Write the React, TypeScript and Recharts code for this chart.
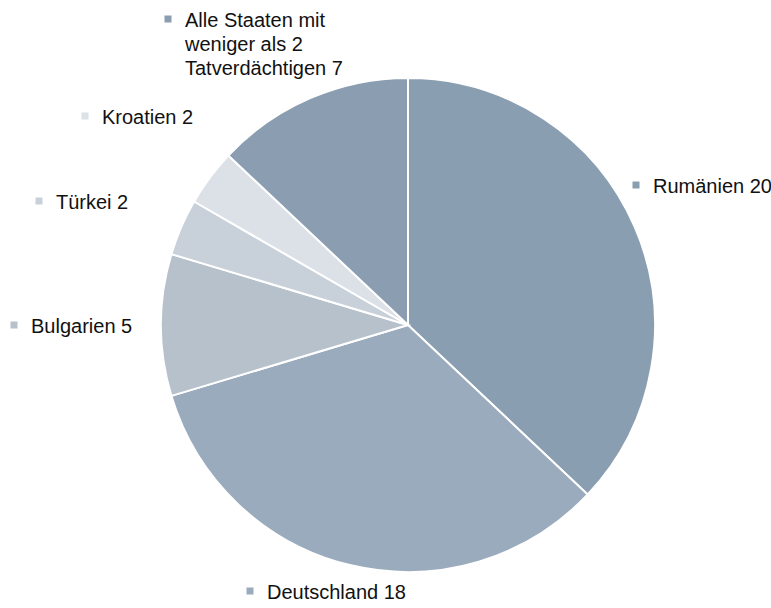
import { PieChart, Pie, Cell } from 'recharts';

const countries = [
  'Rumänien',
  'Deutschland',
  'Bulgarien',
  'Türkei',
  'Kroatien',
  'Alle Staaten mit weniger als 2 Tatverdächtigen',
];
const suspects = [20, 18, 5, 2, 2, 7];
const labelLines = [
  ['Rumänien 20'],
  ['Deutschland 18'],
  ['Bulgarien 5'],
  ['Türkei 2'],
  ['Kroatien 2'],
  ['Alle Staaten mit', 'weniger als 2', 'Tatverdächtigen 7'],
];

const colors = ['#8a9eb2', '#9aabbd', '#b6c1cc', '#c8d0d9', '#dce1e8', '#8a9db1'];

// marker position relative to pie centre (labels are placed by hand like the original)
const labelOffsets = [
  [228, -140],
  [-158, 266],
  [-394, 0],
  [-369, -124],
  [-323, -209],
  [-240, -306],
];

const data = countries.map((name, i) => ({ name, value: suspects[i] }));

const renderLabel = (props: any) => {
  const { cx, cy, index } = props;
  const [dx, dy] = labelOffsets[index];
  const mx = cx + dx;
  const my = cy + dy;
  return (
    <g key={`lbl-${index}`}>
      <rect x={mx - 3.5} y={my - 3.5} width={7} height={7} fill={colors[index]} />
      <text
        x={mx + 17}
        y={my + 8}
        fill="#111"
        fontSize={20}
        fontFamily="'Liberation Sans', Arial, sans-serif"
      >
        {labelLines[index].map((line, j) => (
          <tspan key={j} x={mx + 17} dy={j === 0 ? 0 : 24}>
            {line}
          </tspan>
        ))}
      </text>
    </g>
  );
};

export default function App() {
  return (
    <div style={{ width: 771, height: 608, background: '#fff' }}>
      <style>{`body { margin: 0; }`}</style>
      <PieChart width={771} height={608} margin={{ top: 0, right: 0, bottom: 0, left: 0 }}>
        <Pie
          data={data}
          dataKey="value"
          nameKey="name"
          cx={408}
          cy={325}
          outerRadius={247}
          startAngle={90}
          endAngle={-270}
          stroke="#fff"
          strokeWidth={2}
          label={renderLabel}
          labelLine={false}
          isAnimationActive={false}
        >
          {data.map((d, i) => (
            <Cell key={d.name} fill={colors[i]} />
          ))}
        </Pie>
      </PieChart>
    </div>
  );
}
